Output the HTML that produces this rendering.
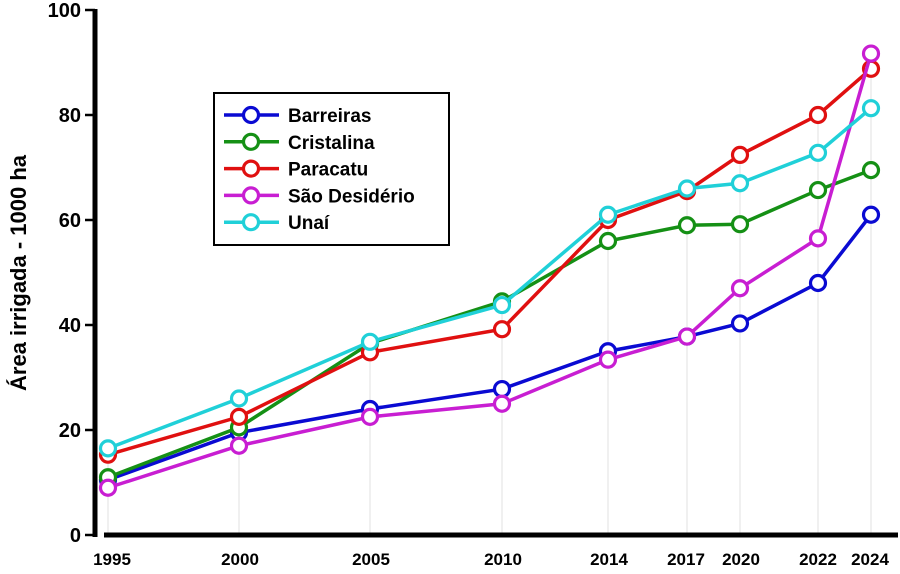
<!DOCTYPE html>
<html><head><meta charset="utf-8"><style>body{margin:0;background:#fff}svg{display:block}</style></head><body>
<svg width="900" height="574" viewBox="0 0 900 574" xmlns="http://www.w3.org/2000/svg" font-family="Liberation Sans, sans-serif" font-weight="bold">
<g stroke="#e6e6e6" stroke-width="1.2" id="grid"></g>
<line x1="95" y1="9" x2="95" y2="537" stroke="#000" stroke-width="5"/>
<line x1="104" y1="535" x2="898" y2="535" stroke="#000" stroke-width="5"/>
<g stroke="#000" stroke-width="2.5">
<line x1="85" y1="10" x2="95" y2="10"/><line x1="85" y1="115" x2="95" y2="115"/><line x1="85" y1="220" x2="95" y2="220"/><line x1="85" y1="325" x2="95" y2="325"/><line x1="85" y1="430" x2="95" y2="430"/><line x1="85" y1="535" x2="95" y2="535"/>
</g>
<g font-size="20" text-anchor="end" fill="#000">
<text x="81" y="17">100</text><text x="81" y="122">80</text><text x="81" y="227">60</text><text x="81" y="332">40</text><text x="81" y="437">20</text><text x="81" y="542">0</text>
</g>
<g font-size="17" text-anchor="middle" fill="#000">
<text x="112" y="565">1995</text><text x="240" y="565">2000</text><text x="371" y="565">2005</text><text x="503" y="565">2010</text><text x="609" y="565">2014</text><text x="686" y="565">2017</text><text x="741" y="565">2020</text><text x="818" y="565">2022</text><text x="870" y="565">2024</text>
</g>
<text transform="translate(26,273) rotate(-90)" font-size="22" text-anchor="middle" fill="#000">Área irrigada - 1000 ha</text>
<g id="series"></g>
<rect x="214" y="93" width="235" height="152" fill="#fff" stroke="#000" stroke-width="2"/>
<g id="legend" font-size="19" fill="#000"></g>
<script>
var X=[108,239,370,502,608,687,740,818,871];
function Y(v){return 535-5.25*v;}
var S=[
["Barreiras","#0a0ad2",[10.5,19.5,24,27.8,35,37.8,40.3,48,61]],
["Cristalina","#159015",[11,20.5,36.5,44.5,56,59,59.2,65.7,69.5]],
["Paracatu","#e01010",[15.3,22.5,34.8,39.2,60,65.5,72.4,80,88.8]],
["São Desidério","#c81ed2",[9,17,22.5,25,33.4,37.8,47,56.5,91.7]],
["Unaí","#20d0d8",[16.5,26,36.8,43.8,61,66,67,72.8,81.3]]];
var ns="http://www.w3.org/2000/svg";
function el(t,a,p){var e=document.createElementNS(ns,t);for(var k in a)e.setAttribute(k,a[k]);p.appendChild(e);return e;}
var g=document.getElementById("grid");
X.forEach(function(x,i){var top=Math.min.apply(null,S.map(function(s){return Y(s[2][i]);}));el("line",{x1:x,y1:top,x2:x,y2:533},g);});
var sg=document.getElementById("series");
S.forEach(function(s){var pts=s[2].map(function(v,i){return X[i]+","+Y(v);}).join(" ");
el("polyline",{points:pts,fill:"none",stroke:s[1],"stroke-width":3.5},sg);
s[2].forEach(function(v,i){el("circle",{cx:X[i],cy:Y(v),r:7.5,fill:"#fff",stroke:s[1],"stroke-width":3.2},sg);});});
var lg=document.getElementById("legend");
S.forEach(function(s,i){var y=115+26.8*i;
el("line",{x1:224,y1:y,x2:279,y2:y,stroke:s[1],"stroke-width":3.5},lg);
el("circle",{cx:251,cy:y,r:7.5,fill:"#fff",stroke:s[1],"stroke-width":3.2},lg);
var t=el("text",{x:288,y:y+7},lg);t.textContent=s[0];});
</script>
</svg>
</body></html>
